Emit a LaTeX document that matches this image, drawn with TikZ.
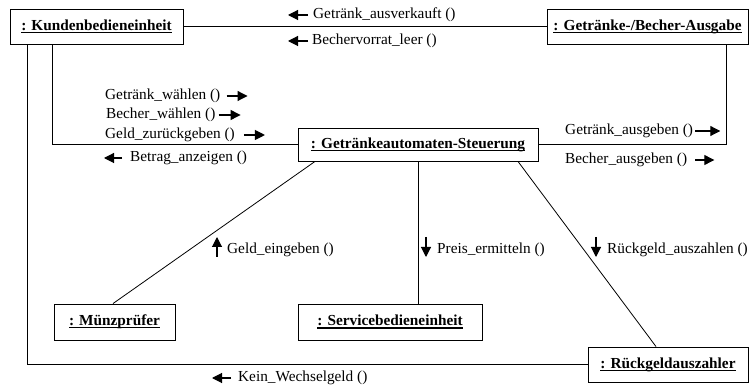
\documentclass[tikz,border=0pt]{standalone}
\usepackage{fontspec}
\setmainfont{Liberation Serif}
\usetikzlibrary{arrows.meta}
% underline at a fixed depth below the baseline
\newcommand\ulbox[1]{\setbox0=\hbox{#1}\rlap{\vrule width\wd0 height-1.5pt depth2.7pt}\box0}
\begin{document}
\begin{tikzpicture}[x=1pt,y=-1pt,
  obj/.style={draw, line width=0.9pt, fill=white, inner sep=0pt,
              font=\fontsize{15.3}{18}\selectfont\bfseries},
  link/.style={line width=0.8pt},
  msg/.style={inner sep=0pt, anchor=west, font=\fontsize{15.3}{18}\selectfont},
  msgarr/.style={line width=1.1pt, -{Triangle[length=10pt,width=10pt]}}]
\useasboundingbox (0,0) rectangle (750,387);

% objects
\node[obj, minimum width=173pt, minimum height=35pt] (kunde)   at (96.5,26.5)  {\ulbox{: Kundenbedieneinheit}};
\node[obj, minimum width=201pt, minimum height=35pt] (ausgabe) at (647.5,26.5) {\ulbox{: Getränke-/Becher-Ausgabe}};
\node[obj, minimum width=240pt, minimum height=33pt] (steuer)  at (418,144.5)  {\ulbox{: Getränkeautomaten-Steuerung}};
\node[obj, minimum width=121pt, minimum height=36pt] (muenz)   at (114.5,322)  {\ulbox{: Münzprüfer}};
\node[obj, minimum width=184pt, minimum height=36pt] (service) at (390,322)    {\ulbox{: Servicebedieneinheit}};
\node[obj, minimum width=160pt, minimum height=35pt] (rueck)   at (668,364.5)  {\ulbox{: Rückgeldauszahler}};

% links
\draw[link] (kunde.east) -- (ausgabe.west);
\draw[link] ([xshift=-44.5pt]kunde.south) |- (steuer.west);
\draw[link] ([xshift=-69.5pt]kunde.south) |- (rueck.west);
\draw[link] ([xshift=78.5pt]ausgabe.south) |- (steuer.east);
\draw[link] ([xshift=-103pt]steuer.south) -- ([xshift=-1.5pt]muenz.north);
\draw[link] (steuer.south) -- (steuer.south |- service.north);
\draw[link] ([xshift=100pt]steuer.south) -- ([xshift=-12pt]rueck.north);

% messages
\node[msg] (m1) at (313,15) {Getränk\_ausverkauft ()};
\draw[msgarr] ([xshift=-5pt]m1.west) -- ++(-20,0);
\node[msg] (m2) at (312,41) {Bechervorrat\_leer ()};
\draw[msgarr] ([xshift=-4pt]m2.west) -- ++(-20,0);
\node[msg] (m3) at (105,96) {Getränk\_wählen ()};
\draw[msgarr] ([xshift=6pt]m3.east) -- ++(21,0);
\node[msg] (m4) at (106,115) {Becher\_wählen ()};
\draw[msgarr] ([xshift=3pt]m4.east) -- ++(22,0);
\node[msg] (m5) at (105,135) {Geld\_zurückgeben ()};
\draw[msgarr] ([xshift=9pt]m5.east) -- ++(21,0);
\node[msg] (m6) at (130,158) {Betrag\_anzeigen ()};
\draw[msgarr] ([xshift=-8pt]m6.west) -- ++(-18,0);
\node[msg] (m7) at (565,131) {Getränk\_ausgeben ()};
\draw[msgarr] ([xshift=2pt]m7.east) -- ++(25,0);
\node[msg] (m8) at (565,160) {Becher\_ausgeben ()};
\draw[msgarr] ([xshift=8pt]m8.east) -- ++(19,0);
\node[msg] (m9) at (227,250) {Geld\_eingeben ()};
\draw[msgarr] ([xshift=-10pt,yshift=-7pt]m9.west) -- ++(0,-20);
\node[msg] (m10) at (437,250) {Preis\_ermitteln ()};
\draw[msgarr] ([xshift=-11pt,yshift=13pt]m10.west) -- ++(0,20);
\node[msg] (m11) at (607,250) {Rückgeld\_auszahlen ()};
\draw[msgarr] ([xshift=-11pt,yshift=13pt]m11.west) -- ++(0,20);
\node[msg] (m12) at (238,378) {Kein\_Wechselgeld ()};
\draw[msgarr] ([xshift=-7pt]m12.west) -- ++(-19,0);
\end{tikzpicture}
\end{document}
